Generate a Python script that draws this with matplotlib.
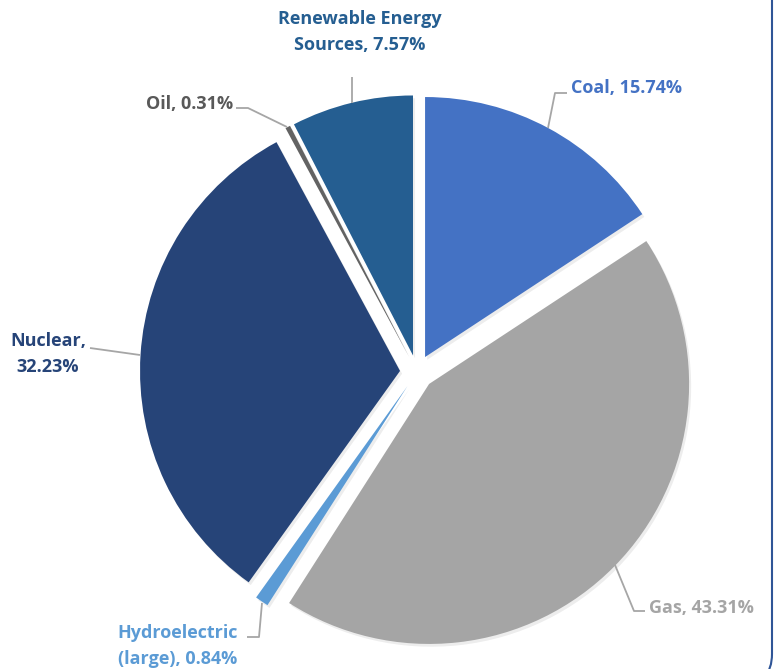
import matplotlib
matplotlib.use("Agg")
import matplotlib.pyplot as plt
import matplotlib.patheffects as pe
from matplotlib.patches import FancyBboxPatch

sources = ["Coal", "Gas", "Hydroelectric\n(large)", "Nuclear", "Oil", "Renewable Energy\nSources"]
shares = [15.74, 43.31, 0.84, 32.23, 0.31, 7.57]
colors = ["#4472C4", "#A5A5A5", "#5B9BD5", "#264478", "#636363", "#255E91"]
label_colors = ["#4472C4", "#A5A5A5", "#5B9BD5", "#264478", "#595959", "#255E91"]

W, H = 774, 669
fig = plt.figure(figsize=(W / 100, H / 100), dpi=100)
ax = fig.add_axes([0, 0, 1, 1])

def p(x, y):
    # image pixel -> data coords (y up)
    return x, H - y

# explode is in data units here (pixels)
wedges, _ = ax.pie(shares, colors=colors, startangle=90, counterclock=False,
                   explode=[17] * len(shares), radius=260, center=p(417, 372),
                   wedgeprops=dict(linewidth=0))
for w in wedges:
    w.set_path_effects([pe.SimplePatchShadow(offset=(1.5, -2), shadow_rgbFace="#000000", alpha=0.07),
                        pe.Normal()])

ax.set_xlim(0, W)
ax.set_ylim(0, H)
ax.set_aspect("equal")
ax.axis("off")

# label placement: (text x, text y, ha, leader points)
layout = [
    (571, 88, "left", [(548, 128), (555, 93), (567, 93)]),
    (649, 608, "left", [(615, 565), (634, 611), (645, 611)]),
    (178, 646, "center", [(262, 603), (259, 637), (247, 637)]),
    (48, 354, "center", [(140, 355), (90, 348)]),
    (233, 104, "right", [(287, 127), (248, 108), (236, 108)]),
    (360, 32, "center", [(352, 103), (352, 77)]),
]

for name, val, col, (tx, ty, ha, pts) in zip(sources, shares, label_colors, layout):
    xs = [p(*q)[0] for q in pts]
    ys = [p(*q)[1] for q in pts]
    ax.plot(xs, ys, color="#A6A6A6", lw=1.3, solid_capstyle="butt")
    if name == "Nuclear":
        txt = "Nuclear,\n%.2f%%" % val
    else:
        txt = "%s, %.2f%%" % (name, val)
    ax.text(*p(tx, ty), txt, ha=ha, va="center", multialignment="center",
            color=col, fontsize=13, fontweight="bold", family="Open Sans",
            linespacing=1.55)

# partial frame border at the right edge
frame = FancyBboxPatch((-60, -15), 832, 720, boxstyle="round,pad=0,rounding_size=30",
                       transform=ax.transData, fill=False, edgecolor="#2F5597", lw=1.5,
                       clip_on=False)
ax.add_patch(frame)

fig.savefig("out.png", dpi=100)
